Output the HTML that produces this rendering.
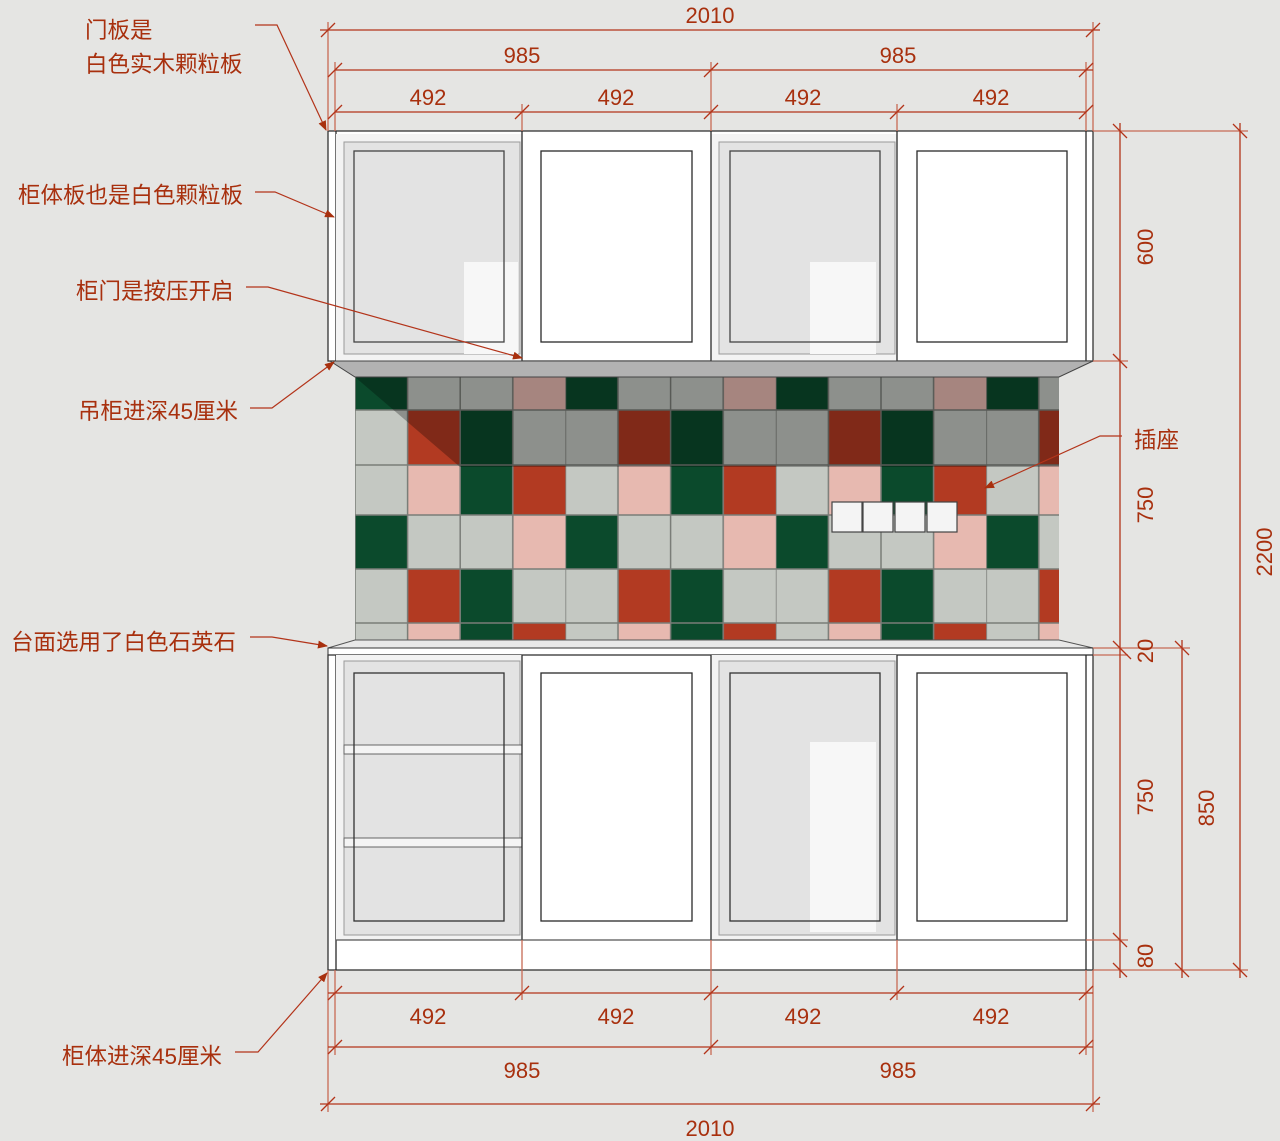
<!DOCTYPE html>
<html><head><meta charset="utf-8"><style>
html,body{margin:0;padding:0;background:#e5e5e3;}
svg{display:block;}
.t{font-family:"Liberation Sans","Noto Sans CJK SC",sans-serif;fill:#a8300e;}
.d{stroke:#b3341a;stroke-width:1.3;fill:none;}
.dl{stroke:#c76a55;stroke-width:1.3;fill:none;}
.k{stroke:#2a2a2a;stroke-width:1.3;fill:none;}
</style></head><body>
<svg width="1280" height="1141" viewBox="0 0 1280 1141" xmlns="http://www.w3.org/2000/svg">
<defs>
<pattern id="pA" patternUnits="userSpaceOnUse" x="355" y="0" width="210.4" height="1141">
<rect x="0" width="52.6" height="1141" fill="#0b4a2c"/><rect x="52.6" width="52.6" height="1141" fill="#c4c8c2"/><rect x="105.2" width="52.6" height="1141" fill="#c4c8c2"/><rect x="157.8" width="52.6" height="1141" fill="#e7b9b0"/>
<path d="M0 0V1141M52.6 0V1141M105.2 0V1141M157.8 0V1141" stroke="#7a7d78" stroke-width="1.5"/>
</pattern>
<pattern id="pB" patternUnits="userSpaceOnUse" x="355" y="0" width="210.4" height="1141">
<rect x="0" width="52.6" height="1141" fill="#c4c8c2"/><rect x="52.6" width="52.6" height="1141" fill="#b23a22"/><rect x="105.2" width="52.6" height="1141" fill="#0b4a2c"/><rect x="157.8" width="52.6" height="1141" fill="#c4c8c2"/>
<path d="M0 0V1141M52.6 0V1141M105.2 0V1141M157.8 0V1141" stroke="#7a7d78" stroke-width="1.5"/>
</pattern>
<pattern id="pC" patternUnits="userSpaceOnUse" x="355" y="0" width="210.4" height="1141">
<rect x="0" width="52.6" height="1141" fill="#c4c8c2"/><rect x="52.6" width="52.6" height="1141" fill="#e7b9b0"/><rect x="105.2" width="52.6" height="1141" fill="#0b4a2c"/><rect x="157.8" width="52.6" height="1141" fill="#b23a22"/>
<path d="M0 0V1141M52.6 0V1141M105.2 0V1141M157.8 0V1141" stroke="#7a7d78" stroke-width="1.5"/>
</pattern>
<marker id="ar" markerWidth="10" markerHeight="8" refX="9" refY="4" orient="auto" markerUnits="userSpaceOnUse"><path d="M0 0L10 4L0 8Z" fill="#a8300e"/></marker>
</defs>

<rect x="355" y="377" width="704" height="33" fill="url(#pA)"/>
<rect x="355" y="410" width="704" height="55" fill="url(#pB)"/>
<rect x="355" y="465" width="704" height="50" fill="url(#pC)"/>
<rect x="355" y="515" width="704" height="54" fill="url(#pA)"/>
<rect x="355" y="569" width="704" height="54" fill="url(#pB)"/>
<rect x="355" y="623" width="704" height="18" fill="url(#pC)"/>
<path d="M355 410H1059M355 465H1059M355 515H1059M355 569H1059M355 623H1059" stroke="#7a7d78" stroke-width="1.5"/>
<polygon points="355,377 1059,377 1059,467 460,467" fill="rgba(0,0,0,0.28)"/>
<g fill="#f4f4f4" stroke="#444" stroke-width="1.2">
<rect x="832" y="502" width="30" height="30"/><rect x="863" y="502" width="30" height="30"/><rect x="895" y="502" width="30" height="30"/><rect x="927" y="502" width="30" height="30"/>
</g>

<rect x="328" y="131" width="765" height="230" fill="#fff" stroke="#333" stroke-width="1.3"/>
<line x1="336" y1="131" x2="336" y2="361" class="k"/>
<line x1="1086" y1="131" x2="1086" y2="361" class="k"/>
<rect x="336" y="134" width="186" height="227" fill="#f3f3f3"/>
<rect x="344" y="142" width="176" height="212" fill="#e3e3e3" stroke="#999"/>
<rect x="464" y="262" width="54" height="92" fill="#f7f7f7"/>
<rect x="354" y="151" width="150" height="191" fill="none" stroke="#444" stroke-width="1.3"/>
<rect x="711" y="134" width="186" height="227" fill="#f3f3f3"/>
<rect x="719" y="142" width="176" height="212" fill="#e3e3e3" stroke="#999"/>
<rect x="810" y="262" width="66" height="92" fill="#f7f7f7"/>
<rect x="730" y="151" width="150" height="191" fill="none" stroke="#444" stroke-width="1.3"/>
<line x1="522" y1="131" x2="522" y2="361" class="k"/>
<line x1="711" y1="131" x2="711" y2="361" class="k"/>
<line x1="897" y1="131" x2="897" y2="361" class="k"/>
<rect x="541" y="151" width="151" height="191" class="k"/>
<rect x="917" y="151" width="150" height="191" class="k"/>
<polygon points="330,361 1093,361 1059,377 355,377" fill="#b2b2b2" stroke="#444"/>

<polygon points="355,640 1059,640 1093,648 328,648" fill="#e8e8e8" stroke="#555"/>
<rect x="328" y="648" width="765" height="7" fill="#fff" stroke="#333"/>
<rect x="328" y="655" width="765" height="315" fill="#fff" stroke="#333" stroke-width="1.3"/>
<line x1="336" y1="655" x2="336" y2="970" class="k"/>
<line x1="1086" y1="655" x2="1086" y2="970" class="k"/>
<rect x="336" y="655" width="186" height="285" fill="#f3f3f3"/>
<rect x="344" y="661" width="176" height="274" fill="#e3e3e3" stroke="#999"/>
<rect x="344" y="745" width="178" height="9" fill="#f4f4f4" stroke="#666"/>
<rect x="344" y="838" width="178" height="9" fill="#f4f4f4" stroke="#666"/>
<rect x="354" y="673" width="150" height="248" fill="none" stroke="#333" stroke-width="1.3"/>
<rect x="711" y="655" width="186" height="285" fill="#f3f3f3"/>
<rect x="719" y="661" width="176" height="274" fill="#e3e3e3" stroke="#999"/>
<rect x="810" y="742" width="66" height="190" fill="#f7f7f7"/>
<rect x="730" y="673" width="150" height="248" fill="none" stroke="#333" stroke-width="1.3"/>
<line x1="522" y1="655" x2="522" y2="940" class="k"/>
<line x1="711" y1="655" x2="711" y2="940" class="k"/>
<line x1="897" y1="655" x2="897" y2="940" class="k"/>
<rect x="541" y="673" width="151" height="248" class="k"/>
<rect x="917" y="673" width="150" height="248" class="k"/>
<line x1="336" y1="940" x2="1086" y2="940" stroke="#555" stroke-width="1.3"/>

<g class="dl">
<path d="M328 22V131M1093 22V131M711 62V131M335 62V131M1086 62V131M522 104V131M897 104V131"/>
<path d="M1093 131H1248M1093 361H1128M1093 648H1190M1093 655H1128M1086 940H1128M1093 970H1248"/>
<path d="M328 970V1112M1093 970V1112M335 970V1055M1086 970V1055M522 940V1000M711 940V1055M897 940V1000"/>
</g>
<g class="d">
<path d="M320 30H1100M335 70H1093M335 112H1086"/>
<path d="M321 37L335 23M1086 37L1100 23M328 77L342 63M704 77L718 63M1079 77L1093 63M328 119L342 105M515 119L529 105M704 119L718 105M890 119L904 105M1079 119L1093 105"/>
<path d="M1120 123V978M1182 640V978M1240 123V978"/>
<path d="M1113 124L1127 138M1113 354L1127 368M1113 641L1127 655M1117 645L1131 659M1113 933L1127 947M1113 963L1127 977M1175 641L1189 655M1175 963L1189 977M1233 124L1247 138M1233 963L1247 977"/>
<path d="M328 993H1093M328 1047H1093M320 1104H1100"/>
<path d="M328 1000L342 986M515 1000L529 986M704 1000L718 986M890 1000L904 986M1079 1000L1093 986M328 1054L342 1040M704 1054L718 1040M1079 1054L1093 1040M321 1111L335 1097M1086 1111L1100 1097"/>
</g>
<g class="t" font-size="22" text-anchor="middle">
<text x="710" y="23">2010</text>
<text x="522" y="63">985</text><text x="898" y="63">985</text>
<text x="428" y="105">492</text><text x="616" y="105">492</text><text x="803" y="105">492</text><text x="991" y="105">492</text>
<text x="428" y="1024">492</text><text x="616" y="1024">492</text><text x="803" y="1024">492</text><text x="991" y="1024">492</text>
<text x="522" y="1078">985</text><text x="898" y="1078">985</text>
<text x="710" y="1136">2010</text>
<text transform="translate(1153,247) rotate(-90)">600</text>
<text transform="translate(1153,505) rotate(-90)">750</text>
<text transform="translate(1153,651) rotate(-90)">20</text>
<text transform="translate(1153,797) rotate(-90)">750</text>
<text transform="translate(1153,956) rotate(-90)">80</text>
<text transform="translate(1214,808) rotate(-90)">850</text>
<text transform="translate(1272,552) rotate(-90)">2200</text>
</g>

<g stroke="#b3341a" stroke-width="1.2" fill="none">
<path d="M255 25H277L326 130" marker-end="url(#ar)"/>
<path d="M255 192H275L334 217" marker-end="url(#ar)"/>
<path d="M246 287H268L522 358" marker-end="url(#ar)"/>
<path d="M250 408H272L334 362" marker-end="url(#ar)"/>
<path d="M1122 436H1100L985 488" marker-end="url(#ar)"/>
<path d="M250 637H272L327 646" marker-end="url(#ar)"/>
<path d="M235 1052H258L327 973" marker-end="url(#ar)"/>
</g>
<g class="t" font-size="22.5">
<text x="85" y="38">门板是</text>
<text x="85" y="72">白色实木颗粒板</text>
<text x="18" y="203">柜体板也是白色颗粒板</text>
<text x="76" y="299">柜门是按压开启</text>
<text x="78" y="419">吊柜进深45厘米</text>
<text x="1134" y="448">插座</text>
<text x="11" y="650">台面选用了白色石英石</text>
<text x="62" y="1064">柜体进深45厘米</text>
</g>
</svg>
</body></html>
